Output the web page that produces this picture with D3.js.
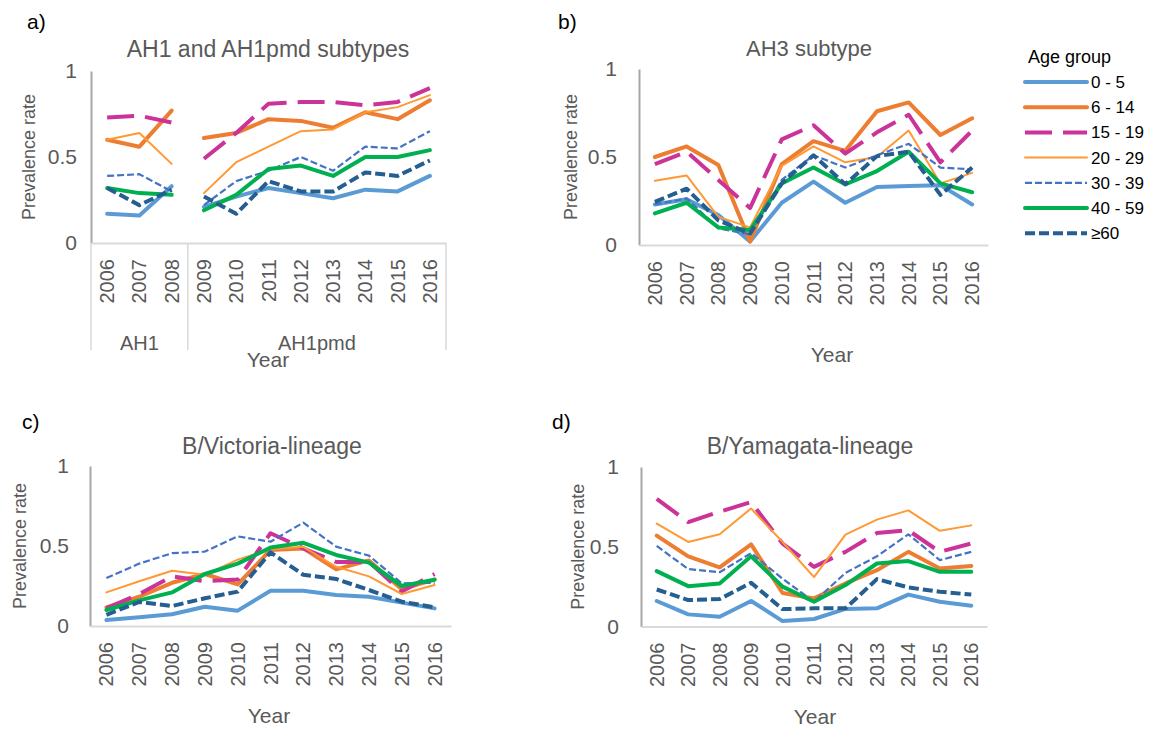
<!DOCTYPE html>
<html>
<head>
<meta charset="utf-8">
<script src="https://cdn.jsdelivr.net/npm/d3@7"></script>
<style>
  body { margin: 0; background: #fff; }
  text { font-family: "Liberation Sans", Arial, sans-serif; }
</style>
</head>
<body>
<div id="chart"></div>
<script>
// data
var years = ["2006", "2007", "2008", "2009", "2010", "2011", "2012", "2013", "2014", "2015", "2016"]
var ageGroups = ["0 - 5", "6 - 14", "15 - 19", "20 - 29", "30 - 39", "40 - 59", "\u226560"]
var yTicks = [0, 0.5, 1]

// a) AH1 (2006-2008) then AH1pmd (2009-2016)
var ah1Values = [
  [0.17, 0.16, 0.33, 0.21, 0.27, 0.32, 0.29, 0.26, 0.31, 0.30, 0.39],
  [0.60, 0.56, 0.77, 0.61, 0.64, 0.72, 0.71, 0.67, 0.76, 0.72, 0.83],
  [0.73, 0.74, 0.70, 0.49, 0.64, 0.81, 0.82, 0.82, 0.80, 0.82, 0.90],
  [0.60, 0.64, 0.46, 0.29, 0.47, 0.56, 0.65, 0.66, 0.76, 0.79, 0.86],
  [0.39, 0.40, 0.30, 0.22, 0.36, 0.42, 0.50, 0.42, 0.56, 0.55, 0.65],
  [0.32, 0.29, 0.28, 0.19, 0.28, 0.43, 0.45, 0.39, 0.50, 0.50, 0.54],
  [0.32, 0.22, 0.31, 0.27, 0.17, 0.36, 0.30, 0.30, 0.41, 0.39, 0.48]
]
var ah1Groups = [{ name: "AH1", from: 0, to: 2 }, { name: "AH1pmd", from: 3, to: 10 }]

// b) AH3
var ah3Values = [
  [0.23, 0.26, 0.17, 0.02, 0.24, 0.36, 0.24, 0.33, 0.335, 0.34, 0.23],
  [0.50, 0.56, 0.455, 0.02, 0.46, 0.59, 0.535, 0.76, 0.81, 0.625, 0.72],
  [0.46, 0.53, 0.37, 0.21, 0.60, 0.68, 0.52, 0.64, 0.74, 0.47, 0.65],
  [0.365, 0.395, 0.16, 0.10, 0.45, 0.56, 0.47, 0.50, 0.65, 0.35, 0.41],
  [0.23, 0.265, 0.095, 0.06, 0.37, 0.51, 0.44, 0.51, 0.575, 0.44, 0.43],
  [0.18, 0.24, 0.10, 0.085, 0.35, 0.44, 0.345, 0.42, 0.53, 0.35, 0.30],
  [0.245, 0.32, 0.14, 0.065, 0.35, 0.51, 0.345, 0.505, 0.53, 0.285, 0.44]
]

// c) B/Victoria
var victoriaValues = [
  [0.037, 0.054, 0.073, 0.12, 0.096, 0.22, 0.22, 0.194, 0.183, 0.146, 0.11],
  [0.117, 0.183, 0.27, 0.325, 0.26, 0.475, 0.485, 0.354, 0.41, 0.23, 0.29],
  [0.11, 0.20, 0.31, 0.28, 0.29, 0.58, 0.485, 0.40, 0.40, 0.215, 0.325],
  [0.21, 0.28, 0.345, 0.32, 0.415, 0.48, 0.495, 0.37, 0.31, 0.20, 0.256],
  [0.30, 0.39, 0.455, 0.465, 0.56, 0.527, 0.646, 0.496, 0.44, 0.267, 0.27],
  [0.10, 0.16, 0.21, 0.325, 0.39, 0.49, 0.52, 0.444, 0.396, 0.25, 0.29],
  [0.07, 0.15, 0.125, 0.173, 0.215, 0.46, 0.32, 0.294, 0.225, 0.152, 0.117]
]

// d) B/Yamagata
var yamagataValues = [
  [0.16, 0.076, 0.061, 0.16, 0.034, 0.047, 0.11, 0.114, 0.20, 0.155, 0.13],
  [0.57, 0.44, 0.37, 0.515, 0.21, 0.176, 0.27, 0.353, 0.468, 0.363, 0.38],
  [0.80, 0.655, 0.72, 0.78, 0.52, 0.374, 0.468, 0.586, 0.603, 0.468, 0.52],
  [0.645, 0.53, 0.578, 0.74, 0.53, 0.31, 0.576, 0.67, 0.728, 0.60, 0.634],
  [0.505, 0.36, 0.34, 0.46, 0.30, 0.155, 0.336, 0.44, 0.578, 0.416, 0.468],
  [0.347, 0.253, 0.27, 0.44, 0.25, 0.155, 0.26, 0.395, 0.41, 0.343, 0.343],
  [0.232, 0.166, 0.172, 0.274, 0.109, 0.114, 0.114, 0.297, 0.245, 0.218, 0.20]
]

// line look per age group
var seriesStyles = [
  { color: "#5b9bd5", width: 4, dash: null },
  { color: "#ed7d31", width: 4, dash: null },
  { color: "#cc3399", width: 4, dash: "27,11" },
  { color: "#ff9933", width: 2, dash: null },
  { color: "#4472c4", width: 2.2, dash: "7,3" },
  { color: "#00b050", width: 4, dash: null },
  { color: "#255e91", width: 4, dash: "10,4" }
]

var panels = [
  { label: "a)", labelX: 27, labelY: 22, title: "AH1 and AH1pmd subtypes", titleSize: 23, titleX: 268, titleY: 49,
    values: ah1Values, groups: ah1Groups, x0: 91, x1: 446, y0: 243, y1: 71, tickRight: 77,
    yLabelX: 29, yearX: 268, yearY: 360 },
  { label: "b)", labelX: 558, labelY: 22, title: "AH3 subtype", titleSize: 22, titleX: 809, titleY: 48,
    values: ah3Values, x0: 639, x1: 988, y0: 245, y1: 69, tickRight: 617,
    yLabelX: 571, yearX: 832, yearY: 355 },
  { label: "c)", labelX: 22, labelY: 422, title: "B/Victoria-lineage", titleSize: 23, titleX: 272, titleY: 446,
    values: victoriaValues, x0: 90, x1: 451, y0: 626, y1: 466, tickRight: 69,
    yLabelX: 20, yearX: 269, yearY: 716 },
  { label: "d)", labelX: 552, labelY: 422, title: "B/Yamagata-lineage", titleSize: 23, titleX: 810, titleY: 446,
    values: yamagataValues, x0: 641, x1: 987, y0: 626.5, y1: 467, tickRight: 619,
    yLabelX: 578, yearX: 815, yearY: 717 }
]

var svg = d3.select("#chart")
  .append("svg")
  .attr("width", 1159)
  .attr("height", 730)

svg.append("rect").attr("width", 1159).attr("height", 730).attr("fill", "#fff")

panels.forEach(function(p) {
  var g = svg.append("g")

  var xScale = d3.scaleBand()
    .domain(years)
    .range([p.x0, p.x1])
    .padding(0)
  var yScale = d3.scaleLinear()
    .domain([0, 1])
    .range([p.y0, p.y1])
  var cx = function(i) { return xScale(years[i]) + xScale.bandwidth() / 2 }

  // panel letter and title
  g.append("text")
    .attr("x", p.labelX).attr("y", p.labelY).attr("dy", "0.35em")
    .style("font-size", "21px").attr("fill", "#000")
    .text(p.label)
  g.append("text")
    .attr("x", p.titleX).attr("y", p.titleY).attr("dy", "0.35em")
    .attr("text-anchor", "middle")
    .style("font-size", p.titleSize + "px").attr("fill", "#595959")
    .text(p.title)

  // y axis
  var leftAxis = d3.axisLeft(yScale)
    .tickValues(yTicks)
    .tickFormat(d3.format("~g"))
    .tickSize(0)
    .tickPadding(p.x0 - p.tickRight)
  var yAxisG = g.append("g")
    .attr("transform", `translate(${p.x0}, 0)`)
    .call(leftAxis)
  yAxisG.select(".domain").attr("stroke", "#a6a6a6").attr("stroke-width", 2)
  yAxisG.selectAll("text").style("font-size", "21px").attr("fill", "#595959")
    .style("font-family", "'Liberation Sans', Arial, sans-serif")

  // x axis
  var bottomAxis = d3.axisBottom(xScale).tickSize(0).tickSizeOuter(0)
  var xAxisG = g.append("g")
    .attr("transform", `translate(0, ${p.y0})`)
    .call(bottomAxis)
  xAxisG.select(".domain").attr("stroke", "#d9d9d9").attr("stroke-width", 2)
  xAxisG.selectAll("text")
    .attr("transform", "rotate(-90)")
    .attr("x", -16).attr("y", 0).attr("dy", "0.35em")
    .attr("text-anchor", "end")
    .style("font-size", "20px").attr("fill", "#595959")
    .style("font-family", "'Liberation Sans', Arial, sans-serif")

  // category groups under the axis (panel a)
  if (p.groups) {
    var edges = [p.x0].concat(p.groups.map(function(gr) {
      return xScale(years[gr.to]) + xScale.bandwidth()
    }))
    g.selectAll(".grp-line")
      .data(edges)
      .enter()
      .append("line")
      .attr("x1", d => d).attr("x2", d => d)
      .attr("y1", p.y0).attr("y2", p.y0 + 107)
      .attr("stroke", "#d9d9d9").attr("stroke-width", 1.5)
    g.selectAll(".grp-text")
      .data(p.groups)
      .enter()
      .append("text")
      .attr("x", d => (xScale(years[d.from]) + xScale(years[d.to]) + xScale.bandwidth()) / 2)
      .attr("y", p.y0 + 100).attr("dy", "0.35em")
      .attr("text-anchor", "middle")
      .style("font-size", "20px").attr("fill", "#595959")
      .text(d => d.name)
  }

  // axis titles
  g.append("text")
    .attr("transform", `translate(${p.yLabelX}, ${(p.y0 + p.y1) / 2}) rotate(-90)`)
    .attr("dy", "0.35em")
    .attr("text-anchor", "middle")
    .style("font-size", "18px").attr("fill", "#595959")
    .text("Prevalence rate")
  g.append("text")
    .attr("x", p.yearX).attr("y", p.yearY).attr("dy", "0.35em")
    .attr("text-anchor", "middle")
    .style("font-size", "21px").attr("fill", "#595959")
    .text("Year")

  // lines, split where the x categories are grouped
  var segments = p.groups ? p.groups : [{ from: 0, to: years.length - 1 }]
  var line = d3.line()
    .x(d => cx(d.i))
    .y(d => yScale(d.v))

  p.values.forEach(function(vals, s) {
    var st = seriesStyles[s]
    segments.forEach(function(seg) {
      var pts = vals.map((v, i) => ({ i: i, v: v })).slice(seg.from, seg.to + 1)
      g.append("path")
        .datum(pts)
        .attr("d", line)
        .attr("fill", "none")
        .attr("stroke", st.color)
        .attr("stroke-width", st.width)
        .attr("stroke-dasharray", st.dash)
        .attr("stroke-linejoin", "round")
        .attr("stroke-linecap", st.dash ? "butt" : "round")
    })
  })
})

// legend
var legend = svg.append("g").attr("transform", "translate(1025, 0)")
legend.append("text")
  .attr("x", 3).attr("y", 57).attr("dy", "0.35em")
  .style("font-size", "18px").attr("fill", "#000")
  .text("Age group")

var items = legend.selectAll(".item")
  .data(ageGroups)
  .enter()
  .append("g")
  .attr("transform", (d, i) => `translate(0, ${82 + i * 25.2})`)
items.append("line")
  .attr("x1", 0).attr("x2", 62)
  .attr("stroke", (d, i) => seriesStyles[i].color)
  .attr("stroke-width", (d, i) => seriesStyles[i].width)
  .attr("stroke-dasharray", (d, i) => seriesStyles[i].dash)
  .attr("stroke-linecap", (d, i) => seriesStyles[i].dash ? "butt" : "round")
items.append("text")
  .attr("x", 66).attr("dy", "0.35em")
  .style("font-size", "17px").attr("fill", "#000")
  .text(d => d)
</script>
</body>
</html>
